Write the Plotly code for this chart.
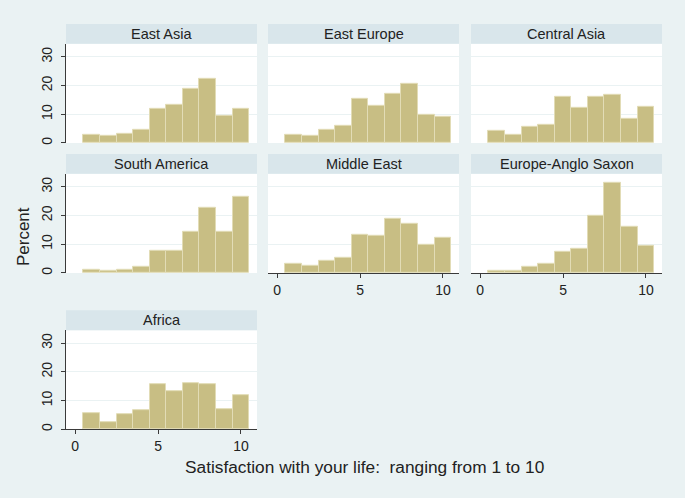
import plotly.graph_objects as go

W, H = 685, 498

scores = [1, 2, 3, 4, 5, 6, 7, 8, 9, 10]
regions = ["East Asia", "East Europe", "Central Asia", "South America",
           "Middle East", "Europe-Anglo Saxon", "Africa"]

east_asia = [2.9, 2.4, 3.3, 4.6, 11.8, 13.1, 19.0, 22.2, 9.5, 11.7]
east_europe = [2.9, 2.4, 4.6, 6.0, 15.4, 13.0, 17.1, 20.6, 9.7, 9.2]
central_asia = [4.3, 2.9, 5.5, 6.3, 16.2, 12.3, 15.9, 16.7, 8.4, 12.6]
south_america = [1.2, 0.8, 1.2, 2.1, 7.8, 7.7, 14.4, 22.8, 14.3, 26.6]
middle_east = [3.1, 2.4, 4.1, 5.2, 13.2, 12.8, 18.9, 17.1, 9.8, 12.3]
europe_anglo = [0.8, 0.9, 2.1, 3.1, 7.4, 8.5, 19.9, 31.5, 16.1, 9.4]
africa = [5.5, 2.4, 5.2, 6.6, 15.6, 13.2, 15.9, 15.6, 7.0, 11.7]

series = [east_asia, east_europe, central_asia, south_america,
          middle_east, europe_anglo, africa]

y_ticks = [0, 10, 20, 30]
x_ticks = [0, 5, 10]

x_title = "Satisfaction with your life:\u00a0\u00a0ranging from 1 to 10"
y_title = "Percent"

# layout geometry (pixels)
cols_px = [(66, 257), (268, 459), (471, 662)]
rows_px = [(44, 143.5), (174.5, 274), (331.5, 431)]
strip_h = 20

# grid cell of each panel, and which axes get labels
cells = [(0, 0), (0, 1), (0, 2), (1, 0), (1, 1), (1, 2), (2, 0)]
bottom_in_col = {0: 2, 1: 1, 2: 1}

BG = "#EAF2F3"
STRIP = "#D9E6EB"
BAR = "#C8BE84"
BAR_LINE = "#E2DCB6"
AXIS = "#3a3a3a"
FONT = "Liberation Sans, Arial, sans-serif"

def fx(px):
    return px / W

def fy(py):
    return 1 - py / H

fig = go.Figure()
shapes = []
annotations = []

for i, (name, vals) in enumerate(zip(regions, series)):
    r, c = cells[i]
    n = i + 1
    xa = "x" if n == 1 else f"x{n}"
    ya = "y" if n == 1 else f"y{n}"
    fig.add_trace(go.Bar(
        x=scores, y=vals, width=1, xaxis=xa, yaxis=ya,
        marker=dict(color=BAR, line=dict(color=BAR_LINE, width=1)),
        showlegend=False, hoverinfo="x+y",
    ))
    x0, x1 = cols_px[c]
    y0, y1 = rows_px[r]
    show_x = (bottom_in_col[c] == r)
    show_y = (c == 0)
    xkey = "xaxis" if n == 1 else f"xaxis{n}"
    ykey = "yaxis" if n == 1 else f"yaxis{n}"
    fig.layout[xkey] = dict(
        domain=[fx(x0), fx(x1)], anchor=ya, range=[-0.55, 10.97],
        tickvals=x_ticks if show_x else [], showticklabels=show_x,
        ticks="outside" if show_x else "", ticklen=4, tickcolor=AXIS,
        showline=show_x, linecolor=AXIS, linewidth=1,
        showgrid=False, zeroline=False,
        tickfont=dict(family=FONT, size=14, color="#222"),
        fixedrange=True,
    )
    fig.layout[ykey] = dict(
        domain=[fy(y1), fy(y0)], anchor=xa, range=[0, 34.5],
        tickvals=y_ticks, showticklabels=show_y, tickangle=-90,
        ticks="outside" if show_y else "", ticklen=4, tickcolor=AXIS,
        showline=show_y, linecolor=AXIS, linewidth=1,
        showgrid=True, gridcolor=BG, gridwidth=1.2, zeroline=False,
        tickfont=dict(family=FONT, size=14, color="#222"),
        ticklabelstandoff=3,
        fixedrange=True,
    )
    # white plot background
    shapes.append(dict(type="rect", xref="paper", yref="paper",
                       x0=fx(x0), x1=fx(x1), y0=fy(y1), y1=fy(y0),
                       fillcolor="white", line=dict(width=0), layer="below"))
    # strip
    shapes.append(dict(type="rect", xref="paper", yref="paper",
                       x0=fx(x0), x1=fx(x1), y0=fy(y0), y1=fy(y0 - strip_h),
                       fillcolor=STRIP, line=dict(width=0), layer="below"))
    annotations.append(dict(text=name, xref="paper", yref="paper",
                            x=fx((x0 + x1) / 2), y=fy(y0 - strip_h / 2),
                            xanchor="center", yanchor="middle", showarrow=False,
                            font=dict(family=FONT, size=14.5, color="#222")))

annotations.append(dict(text=x_title, xref="paper", yref="paper",
                        x=fx(364), y=fy(469), xanchor="center", yanchor="middle",
                        showarrow=False, font=dict(family=FONT, size=17.3, color="#222")))
annotations.append(dict(text=y_title, xref="paper", yref="paper",
                        x=fx(23), y=fy(238), xanchor="center", yanchor="middle",
                        textangle=-90, showarrow=False,
                        font=dict(family=FONT, size=17, color="#222")))

fig.update_layout(
    width=W, height=H, margin=dict(l=0, r=0, t=0, b=0),
    paper_bgcolor=BG, plot_bgcolor="rgba(0,0,0,0)",
    bargap=0, shapes=shapes, annotations=annotations,
    font=dict(family=FONT),
)

fig.write_html("out.html", config={"displayModeBar": False},
               post_script="document.body.style.margin='0';document.body.style.background='" + BG + "';")
